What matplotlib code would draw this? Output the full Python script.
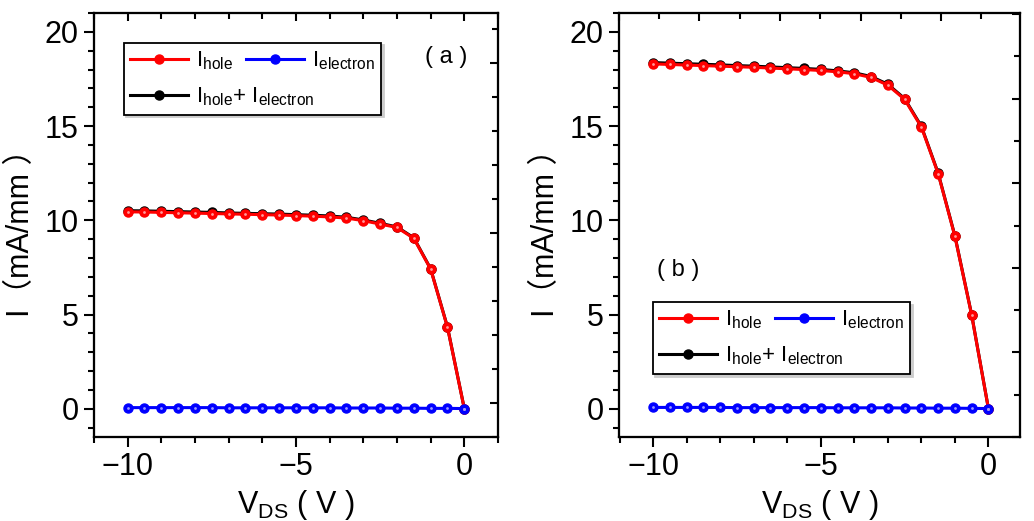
"""
Hole / electron current vs V_DS, two panels (a) and (b)
"""

import matplotlib
matplotlib.use('Agg')
import matplotlib.pyplot as plt
from matplotlib.ticker import MultipleLocator
import numpy as np

plt.rcParams['font.family'] = ['Liberation Sans', 'Noto Sans CJK SC']
plt.rcParams['mathtext.fontset'] = 'custom'
plt.rcParams['mathtext.rm'] = 'Liberation Sans'
plt.rcParams['mathtext.it'] = 'Liberation Sans:italic'

# V_DS sweep (V)
vds = [-10, -9.5, -9, -8.5, -8, -7.5, -7, -6.5, -6, -5.5, -5,
       -4.5, -4, -3.5, -3, -2.5, -2, -1.5, -1, -0.5, 0]

# panel (a), mA/mm
hole_a = [10.45, 10.44, 10.42, 10.40, 10.38, 10.36, 10.34, 10.32, 10.30, 10.28, 10.25,
          10.22, 10.18, 10.12, 9.98, 9.80, 9.62, 9.04, 7.41, 4.32, 0.0]
electron_a = [0.06, 0.06, 0.06, 0.06, 0.06, 0.06, 0.05, 0.05, 0.05, 0.05, 0.05,
              0.05, 0.05, 0.04, 0.04, 0.04, 0.03, 0.03, 0.02, 0.02, 0.01]

# panel (b), mA/mm
hole_b = [18.30, 18.27, 18.24, 18.21, 18.18, 18.15, 18.12, 18.08, 18.04, 18.00, 17.95,
          17.88, 17.78, 17.58, 17.17, 16.42, 14.95, 12.48, 9.15, 4.97, 0.0]
electron_b = [0.07, 0.07, 0.07, 0.07, 0.07, 0.06, 0.06, 0.06, 0.06, 0.06, 0.06,
              0.05, 0.05, 0.05, 0.05, 0.04, 0.04, 0.03, 0.03, 0.02, 0.01]

lbl_hole = r'$\mathregular{I_{hole}}$'
lbl_elec = r'$\mathregular{I_{electron}}$'
lbl_sum = r'$\mathregular{I_{hole}}$+ $\mathregular{I_{electron}}$'

LW = 2.2
MS = 6.5
FS = 22
LEG_FS = 16


def style_frame(a):
    for s in a.spines.values():
        s.set_linewidth(1.5)


def draw_panel(ax, hole, electron, xlim, right_lim, right_step, top_lim, top_step):
    total = np.add(hole, electron)
    l_sum, = ax.plot(vds, total, color='black', lw=LW, marker='o', ms=MS, label=lbl_sum)
    l_hole, = ax.plot(vds, hole, color='red', lw=LW, marker='o', ms=MS, label=lbl_hole)
    l_elec, = ax.plot(vds, electron, color='blue', lw=LW, marker='o', ms=MS, label=lbl_elec)
    # small highlight on the ball markers
    ax.plot(vds, hole, ls='none', marker='o', ms=2.0, color='#ff9a9a', mew=0)
    ax.plot(vds, electron, ls='none', marker='o', ms=2.0, color='#9a9aff', mew=0)

    ax.set_xlim(*xlim)
    ax.set_ylim(-1.5, 21)
    ax.xaxis.set_major_locator(MultipleLocator(5))
    ax.xaxis.set_minor_locator(MultipleLocator(1))
    ax.yaxis.set_major_locator(MultipleLocator(5))
    ax.yaxis.set_minor_locator(MultipleLocator(1))
    ax.tick_params(which='both', direction='out', width=1.5, labelsize=FS,
                   top=False, right=False)
    ax.tick_params(which='major', length=7, pad=4)
    ax.tick_params(which='minor', length=4)
    ax.set_xlabel(r'$\mathregular{V_{DS}}$ ( V )', fontsize=FS, labelpad=4)
    ax.set_ylabel('I（mA/mm ）', fontsize=FS, labelpad=6)
    style_frame(ax)

    # inward ticks on top and right, each with its own scale as in the original
    ax_t = ax.twiny()
    ax_t.set_xlim(*top_lim)
    ax_t.xaxis.set_major_locator(MultipleLocator(top_step))
    ax_t.xaxis.set_minor_locator(MultipleLocator(1 if top_lim[0] < 0 else top_step / 2))
    ax_t.tick_params(which='both', direction='in', width=1.5, labeltop=False)
    ax_t.tick_params(which='major', length=6)
    ax_t.tick_params(which='minor', length=4)
    style_frame(ax_t)

    ax_r = ax.twinx()
    ax_r.set_ylim(*right_lim)
    ax_r.yaxis.set_major_locator(MultipleLocator(5))
    ax_r.yaxis.set_minor_locator(MultipleLocator(right_step))
    ax_r.tick_params(which='both', direction='in', width=1.5, labelright=False)
    ax_r.tick_params(which='major', length=6)
    ax_r.tick_params(which='minor', length=4)
    style_frame(ax_r)

    return ax_r, [l_hole, l_sum, l_elec]


fig = plt.figure(figsize=(10.34, 5.21), dpi=100)
ax_a = fig.add_axes([0.0909, 0.1612, 0.3907, 0.8138])
ax_b = fig.add_axes([0.5986, 0.1612, 0.3878, 0.8138])

top_a, handles_a = draw_panel(ax_a, hole_a, electron_a, (-11, 1), (-1, 11.47), 1, (-11, 1), 5)
top_b, handles_b = draw_panel(ax_b, hole_b, electron_b, (-11.02, 0.94), (0, 25.06), 2.5, (0, 24.9), 5)

HL, HTP = 2.6, 0.35
leg_kw = dict(ncol=2, fontsize=LEG_FS, frameon=True, fancybox=False, edgecolor='black',
              shadow={'color': '0.8', 'alpha': 1}, handlelength=HL,
              handletextpad=HTP, borderpad=0.3, labelspacing=0.6, borderaxespad=0,
              loc='upper left')


def add_legend(host, handles, anchor, col2_offset=116):
    labels = [h.get_label() for h in handles]
    leg = host.legend(handles, labels, bbox_to_anchor=anchor, columnspacing=0.8, **leg_kw)
    fig.canvas.draw()
    r = fig.canvas.get_renderer()
    fs_px = LEG_FS * fig.dpi / 72
    w_sum = leg.get_texts()[1].get_window_extent(r).width
    col1 = (HL + HTP) * fs_px + w_sum
    colsp = (col2_offset - col1) / fs_px   # second column overlaps the long label
    leg.remove()
    leg = host.legend(handles, labels, bbox_to_anchor=anchor, columnspacing=colsp, **leg_kw)
    leg.get_frame().set_linewidth(1.3)
    return leg


add_legend(top_a, handles_a, (0.0735, 0.93))
add_legend(top_b, handles_b, (0.084, 0.318))

top_a.text(0.871, 0.896, '( a )', transform=top_a.transAxes, fontsize=17,
           ha='center', va='center')
top_b.text(0.147, 0.394, '( b )', transform=top_b.transAxes, fontsize=17,
           ha='center', va='center')

fig.savefig('out.png', dpi=100)
